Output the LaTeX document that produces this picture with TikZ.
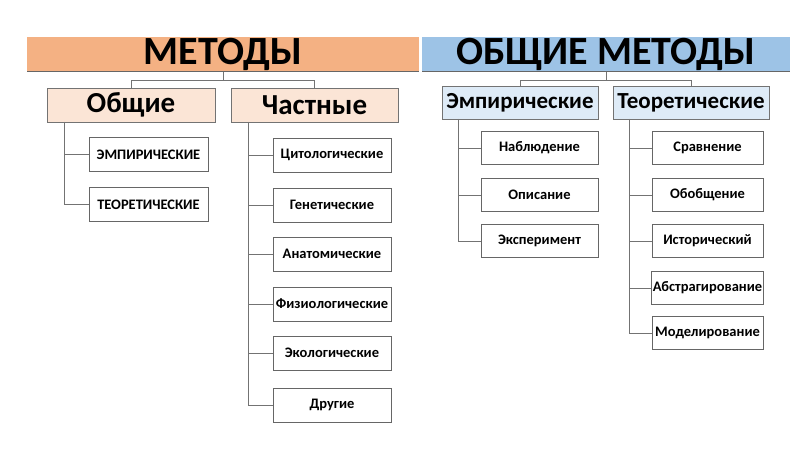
\documentclass[tikz,border=0pt]{standalone}
\usepackage{fontspec}
\setmainfont{Carlito}
\begin{document}
\begin{tikzpicture}[x=1pt,y=-1pt,
  ln/.style={draw=black!55,line width=0.8pt},
  leaf/.style={draw=black!60,fill=white,line width=0.8pt,minimum height=34pt,font=\bfseries\fontsize{14.5}{16}\selectfont,inner sep=1pt},
  mid/.style={draw=black!55,line width=0.8pt,minimum height=34pt,font=\bfseries\fontsize{29}{32}\selectfont,inner sep=1pt}]
\useasboundingbox (0,0) rectangle (807,454);
\fill[white] (0,0) rectangle (807,454);
% banners
\node[fill={rgb,255:red,244;green,177;blue,131},minimum width=392pt,minimum height=35pt,inner sep=0pt,font=\bfseries\fontsize{40}{40}\selectfont] (b1) at (223,54.5) {МЕТОДЫ};
\draw[black!60,line width=1pt] (27,72) -- (419,72);
\node[fill={rgb,255:red,157;green,195;blue,230},minimum width=368pt,minimum height=35pt,inner sep=0pt,font=\bfseries\fontsize{40}{40}\selectfont] (b2) at (606,54.5) {ОБЩИЕ МЕТОДЫ};
\draw[black!60,line width=1pt] (422,72) -- (790,72);
% left mid
\node[mid,fill={rgb,255:red,251;green,229;blue,214},minimum width=168pt] (ob) at (131,105) {Общие};
\node[mid,fill={rgb,255:red,251;green,229;blue,214},minimum width=167pt] (ch) at (314.5,105) {Частные};
\draw[ln] (b1.south) -- (223,80) -| (ob.north);
\draw[ln] (223,80) -| (ch.north);
% right mid
\node[mid,fill={rgb,255:red,222;green,235;blue,247},minimum width=156pt,minimum height=33pt,font=\bfseries\fontsize{23}{26}\selectfont] (em) at (520,102.5) {Эмпирические};
\node[mid,fill={rgb,255:red,222;green,235;blue,247},minimum width=156pt,minimum height=33pt,font=\bfseries\fontsize{23}{26}\selectfont] (te) at (691,102.5) {Теоретические};
\draw[ln] (b2.south) -- (606,80) -| (em.north);
\draw[ln] (606,80) -| (te.north);
% Общие children
\node[leaf,minimum width=119pt] (o1) at (148.5,154.5) {ЭМПИРИЧЕСКИЕ};
\node[leaf,minimum width=119pt] (o2) at (148.5,204.5) {ТЕОРЕТИЧЕСКИЕ};
\draw[ln] (64,122) |- (o2.west);
\draw[ln] (64,154.5) -- (o1.west);
% Частные children
\foreach \n/\y/\t in {c1/155/Цитологические,c2/205/Генетические,c3/254/Анатомические,c4/304/Физиологические,c5/353/Экологические,c6/405/Другие}{
  \node[leaf,minimum width=118pt] (\n) at (332,\y) {\t};
  \draw[ln] (248,\y) -- (\n.west);
}
\draw[ln] (248,122) -- (248,405);
% Эмпирические children
\foreach \n/\y/\t in {e1/148/Наблюдение,e2/195/Описание,e3/241/Эксперимент}{
  \node[leaf,minimum width=117pt,minimum height=33pt] (\n) at (539.5,\y) {\t};
  \draw[ln] (458,\y) -- (\n.west);
}
\draw[ln] (458,119) -- (458,241);
% Теоретические children
\foreach \n/\y/\t in {t1/148/Сравнение,t2/195/Обобщение,t3/241/Исторический,t4/288/Абстрагирование,t5/333/Моделирование}{
  \node[leaf,minimum width=111pt,minimum height=33pt] (\n) at (707.5,\y) {\t};
  \draw[ln] (629,\y) -- (\n.west);
}
\draw[ln] (629,119) -- (629,333);
\end{tikzpicture}
\end{document}
